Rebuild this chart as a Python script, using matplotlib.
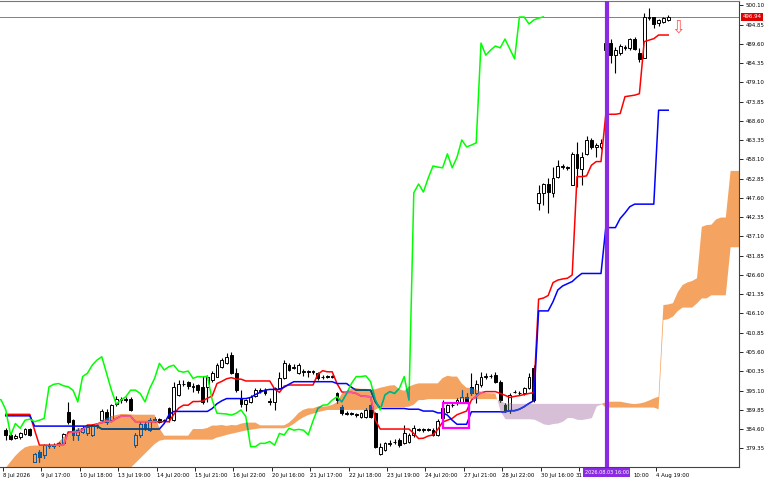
import numpy as np
import matplotlib
matplotlib.use("Agg")
import matplotlib.pyplot as plt
from matplotlib.patches import Rectangle, PathPatch
from matplotlib.path import Path
from matplotlib.transforms import blended_transform_factory, ScaledTranslation

# hourly-ish bars, index 0..138 (last one is the live bar)
open_ = [
    384.3, 383.0, 382.2, 382.5, 383.2, 384.5, 375.7, 378.4, 377.5, 379.9,
    380.1, 380.2, 380.7, 389.3, 387.0, 383.1, 383.9, 383.4, 383.1, 385.4,
    387.0, 389.3, 387.0, 391.4, 392.5, 392.7, 392.9, 380.2, 382.9, 386.0,
    384.3, 387.0, 387.2, 386.8, 390.2, 387.0, 394.0, 396.8, 397.3, 396.2,
    396.6, 396.1, 396.1, 398.0, 398.9, 401.6, 402.5, 404.8, 400.0, 393.0,
    391.4, 392.0, 393.6, 395.0, 395.2, 392.3, 392.0, 395.7, 398.4, 402.0,
    401.3, 399.8, 400.2, 400.3, 400.2, 399.8, 398.7, 398.9, 398.8, 394.3,
    390.7, 389.0, 388.8, 388.6, 388.0, 388.0, 391.1, 388.9, 377.9, 378.9,
    380.6, 381.0, 381.6, 380.7, 381.1, 383.0, 384.5, 384.3, 384.5, 384.3,
    383.0, 387.5, 389.3, 391.1, 391.6, 392.0, 393.4, 396.1, 394.3, 396.6,
    398.8, 399.0, 399.3, 397.5, 391.1, 389.8, 394.6, 394.5, 394.3, 395.7,
    401.1, 446.3, 449.0, 451.5, 449.0, 453.4, 456.4, 456.0, 451.1, 459.6,
    455.6, 459.5, 463.4, 461.6, 461.5, 488.0, 489.8, 486.5, 487.0, 488.8,
    488.4, 490.8, 487.0, 485.6, 496.6, 496.8, 495.3, 495.6, 496.2]
high = [
    384.8, 383.4, 383.3, 383.8, 385.0, 385.0, 378.2, 378.9, 380.6, 380.9,
    380.8, 381.2, 383.6, 392.0, 387.3, 384.8, 385.3, 385.6, 386.1, 386.0,
    390.0, 390.0, 391.5, 393.5, 393.2, 393.2, 393.2, 383.4, 386.6, 386.4,
    387.5, 387.8, 387.6, 387.3, 390.7, 397.5, 398.0, 397.9, 397.6, 397.2,
    397.0, 399.0, 399.3, 400.3, 402.5, 403.9, 405.2, 405.7, 401.2, 395.2,
    392.7, 393.9, 395.7, 395.7, 395.7, 393.0, 396.0, 400.2, 403.4, 402.5,
    402.2, 402.5, 401.0, 400.7, 400.8, 400.2, 399.2, 399.3, 399.3, 394.8,
    391.1, 389.4, 389.2, 389.0, 389.3, 390.2, 391.6, 389.3, 380.7, 381.2,
    381.5, 382.0, 382.1, 385.7, 383.5, 385.7, 385.0, 384.9, 384.9, 384.8,
    387.3, 392.5, 391.5, 391.8, 393.0, 395.2, 394.5, 399.8, 397.9, 400.2,
    399.8, 399.6, 400.2, 398.0, 391.6, 394.3, 395.3, 395.0, 396.0, 400.0,
    402.0, 451.1, 451.6, 453.0, 456.0, 457.9, 456.8, 456.4, 460.2, 462.9,
    460.0, 464.6, 464.0, 462.5, 463.6, 491.0, 490.8, 488.8, 489.6, 489.3,
    491.3, 491.4, 488.4, 497.9, 499.3, 497.0, 496.4, 496.9, 497.5]
low = [
    381.6, 381.6, 381.8, 382.0, 382.9, 382.6, 375.5, 375.7, 376.8, 379.4,
    379.3, 380.0, 380.5, 386.1, 381.6, 381.6, 383.5, 383.0, 382.8, 385.0,
    386.6, 386.0, 386.8, 391.0, 391.8, 392.0, 389.6, 379.8, 382.5, 384.4,
    384.1, 386.6, 386.3, 386.5, 386.6, 386.9, 393.6, 396.3, 395.5, 394.8,
    394.4, 391.4, 392.0, 397.5, 398.7, 401.1, 402.3, 399.6, 394.8, 390.7,
    389.6, 391.6, 393.4, 394.3, 393.9, 391.1, 389.8, 395.5, 398.2, 400.3,
    400.9, 399.5, 399.0, 398.9, 399.7, 398.0, 398.3, 398.4, 398.5, 391.6,
    388.4, 388.5, 388.3, 388.0, 387.7, 387.6, 387.5, 379.3, 377.5, 378.5,
    380.0, 380.4, 379.8, 380.5, 380.8, 382.5, 384.0, 383.9, 384.0, 382.6,
    382.8, 387.0, 388.9, 390.5, 391.2, 391.8, 391.7, 393.8, 391.6, 396.1,
    398.3, 398.5, 397.1, 392.0, 389.3, 388.9, 394.3, 394.0, 394.0, 395.5,
    392.0, 444.3, 445.7, 443.5, 447.9, 453.0, 455.6, 455.2, 451.0, 450.7,
    451.0, 459.2, 461.0, 458.8, 460.8, 486.5, 484.3, 481.6, 486.5, 488.0,
    488.0, 487.9, 484.7, 485.6, 496.1, 494.0, 494.5, 495.2, 495.9]
close = [
    383.0, 382.0, 382.8, 383.4, 384.5, 383.1, 377.9, 377.0, 380.2, 380.2,
    380.0, 380.8, 383.2, 386.6, 383.1, 384.3, 384.8, 385.2, 385.7, 385.6,
    389.6, 386.6, 391.1, 392.9, 392.7, 392.6, 389.8, 382.9, 386.1, 384.8,
    387.0, 387.3, 386.6, 387.0, 387.5, 396.1, 396.8, 397.0, 396.4, 396.1,
    395.2, 392.0, 398.9, 399.8, 402.0, 403.4, 404.3, 399.8, 395.2, 391.4,
    392.5, 393.4, 395.2, 395.2, 394.3, 392.0, 395.7, 398.4, 402.5, 400.7,
    401.6, 402.0, 400.4, 400.1, 400.4, 398.4, 398.9, 398.8, 399.0, 392.5,
    388.9, 388.8, 388.7, 388.4, 388.9, 389.8, 388.0, 379.8, 379.8, 380.7,
    380.7, 381.2, 380.2, 383.4, 383.0, 384.8, 384.3, 384.5, 384.3, 383.0,
    386.8, 390.2, 391.1, 391.2, 392.5, 393.4, 392.0, 394.3, 397.0, 398.9,
    398.9, 399.1, 397.5, 392.5, 389.8, 393.9, 394.8, 394.3, 395.7, 398.9,
    392.5, 449.0, 451.4, 449.2, 453.0, 456.3, 456.0, 455.8, 459.6, 455.8,
    458.7, 463.4, 461.5, 462.0, 462.6, 489.8, 486.5, 487.9, 489.0, 488.5,
    490.9, 488.2, 485.5, 496.9, 496.9, 495.0, 496.1, 496.6, 496.94]

tenkan = [
    388.6, 388.6, 388.6, 388.6, 388.6, 388.6, 384.3, 380.2, 380.2, 380.2,
    380.2, 380.2, 380.2, 383.8, 383.8, 383.8, 384.4, 385.7, 385.7, 386.0,
    386.3, 386.8, 386.6, 387.5, 388.1, 388.1, 388.1, 386.6, 386.6, 386.6,
    386.6, 386.6, 386.6, 386.6, 386.6, 388.6, 390.3, 391.1, 391.1, 392.1,
    392.1, 392.2, 393.0, 393.6, 397.0, 397.6, 398.3, 398.6, 398.2, 398.2,
    397.7, 397.7, 397.7, 397.7, 397.7, 397.7, 395.5, 394.6, 396.3, 396.6,
    396.6, 396.6, 396.6, 396.6, 396.6, 399.5, 400.5, 400.2, 400.2, 397.0,
    394.7, 394.6, 394.6, 394.3, 393.6, 393.5, 393.4, 387.0, 384.6, 384.6,
    384.6, 384.6, 384.6, 384.6, 384.6, 383.4, 382.0, 382.1, 382.7, 383.0,
    384.5, 386.5, 387.0, 387.5, 388.5, 389.0, 389.5, 392.5, 393.5, 394.5,
    394.8, 394.8, 394.8, 394.3, 393.8, 393.2, 393.5, 393.7, 394.0, 394.3,
    394.5, 420.0, 420.3, 421.0, 424.5, 425.2, 425.5, 425.7, 426.6, 453.4,
    453.4, 453.6, 456.5, 457.5, 457.5, 470.4, 470.4, 470.4, 470.6, 475.2,
    475.4, 475.6, 476.0, 490.2, 490.6, 491.0, 492.0, 492.0, 492.0]
kijun = [
    388.2, 388.2, 388.2, 388.2, 388.2, 388.2, 385.4, 385.4, 385.4, 385.4,
    385.4, 385.4, 385.4, 385.4, 385.4, 385.4, 385.4, 385.4, 385.4, 385.4,
    384.6, 384.6, 384.6, 384.6, 384.6, 384.6, 384.6, 384.6, 384.6, 384.6,
    384.6, 384.6, 384.6, 386.1, 388.5, 389.4, 389.4, 389.4, 389.4, 389.4,
    389.4, 389.4, 389.4, 390.2, 391.5, 392.3, 392.9, 392.9, 392.9, 392.9,
    392.9, 393.2, 394.0, 394.6, 395.2, 395.4, 395.4, 395.4, 396.0, 396.8,
    397.5, 397.5, 397.5, 397.5, 397.5, 397.5, 397.5, 397.5, 397.5, 397.0,
    397.0, 397.0, 396.0, 395.2, 395.2, 395.2, 395.2, 392.0, 390.2, 390.2,
    390.2, 390.2, 390.2, 390.2, 390.0, 390.0, 390.0, 389.5, 389.5, 389.5,
    389.0, 389.0, 388.4, 387.0, 385.9, 385.9, 385.9, 389.3, 389.3, 389.3,
    389.3, 389.3, 389.3, 389.3, 389.3, 389.6, 389.6, 390.0, 390.7, 391.6,
    392.3, 416.8, 416.8, 416.8, 419.3, 422.5, 423.6, 424.2, 424.8, 426.0,
    427.0, 427.0, 427.0, 427.0, 427.0, 439.5, 439.5, 439.5, 442.0, 443.5,
    445.2, 445.9, 445.9, 445.9, 445.9, 445.9, 471.5, 471.5, 471.5]

# cloud edges, already shifted forward (index 0..153)
span_a = [
    374.0, 375.7, 377.3, 378.6, 379.6, 380.0, 380.1, 380.1, 380.1, 380.1,
    380.2, 381.1, 382.3, 383.4, 384.1, 384.8, 384.8, 385.4, 385.4, 386.1,
    387.0, 387.5, 388.1, 388.4, 388.7, 388.7, 388.6, 388.5, 388.5, 388.5,
    388.5, 388.5, 384.85, 382.8, 382.8, 382.8, 382.8, 382.8, 382.8, 384.6,
    384.6, 384.6, 384.9, 385.55, 385.55, 385.7, 385.45, 385.7, 385.6, 386.05,
    386.35, 386.35, 386.35, 385.6, 385.6, 385.6, 385.6, 385.6, 385.6, 386.35,
    387.55, 389.0, 389.85, 390.25, 390.25, 390.75, 390.75, 390.8, 391.2, 391.9,
    394.25, 394.95, 395.6, 395.75, 395.55, 395.55, 395.3, 395.45, 395.85, 396.15,
    396.45, 396.55, 395.45, 395.0, 396.15, 396.7, 397.05, 397.05, 397.05, 397.05,
    397.05, 398.5, 399.1, 398.9, 398.9, 397.0, 395.85, 395.8, 395.3, 394.75,
    394.4, 394.35, 394.3, 389.5, 387.4, 387.4, 387.4, 387.4, 387.4, 387.4,
    387.3, 386.7, 386.0, 385.8, 386.1, 386.25, 386.75, 387.75, 387.7, 387.25,
    387.2, 387.45, 387.7, 390.9, 391.4, 391.9, 392.05, 392.05, 392.05, 391.8,
    391.55, 391.4, 391.55, 391.85, 392.35, 392.95, 393.4, 418.4, 418.55, 418.9,
    421.9, 423.85, 424.55, 424.95, 425.7, 439.7, 440.2, 440.3, 441.75, 442.25,
    442.25, 454.95, 454.95, 454.95]
span_b = [
    372.5, 372.5, 372.5, 372.5, 372.5, 372.5, 372.5, 372.5, 372.5, 372.5,
    372.5, 372.5, 372.5, 372.5, 372.5, 372.5, 372.5, 372.5, 372.5, 372.5,
    372.5, 372.5, 372.5, 372.5, 372.5, 372.5, 374.0, 375.3, 376.6, 377.9,
    379.2, 380.5, 381.4, 381.7, 381.7, 381.7, 381.7, 381.7, 381.7, 381.7,
    381.7, 381.7, 381.7, 381.7, 382.3, 382.6, 383.0, 383.3, 383.6, 383.9,
    384.2, 384.4, 384.6, 384.8, 384.8, 384.8, 384.8, 384.8, 384.8, 385.2,
    386.0, 387.0, 387.8, 388.4, 388.8, 389.2, 389.5, 389.8, 389.8, 389.8,
    389.8, 389.8, 389.8, 389.8, 389.8, 389.8, 389.8, 389.8, 390.6, 390.6,
    390.6, 390.6, 390.6, 390.6, 390.7, 391.25, 392.5, 392.5, 392.75, 392.75,
    392.75, 392.75, 392.75, 392.75, 392.75, 392.75, 392.75, 392.75, 392.75, 392.75,
    392.75, 392.75, 392.75, 392.5, 391.6, 391.6, 391.6, 391.6, 391.6, 391.6,
    391.6, 391.6, 391.6, 391.6, 391.6, 391.6, 391.6, 391.6, 391.6, 391.6,
    391.6, 391.6, 391.6, 391.6, 391.6, 390.45, 390.45, 390.45, 390.45, 390.45,
    390.45, 390.45, 390.45, 390.45, 390.45, 390.45, 390.0, 414.3, 414.55, 415.25,
    416.75, 417.7, 417.7, 417.7, 418.85, 420.2, 420.2, 421.05, 421.05, 421.05,
    421.05, 434.15, 434.15, 434.15]

# labels as they show on screen (the two near the marker are half covered by its tag)
date_labels = ["8 Jul 2026", "9 Jul 17:00", "10 Jul 18:00", "13 Jul 19:00",
               "14 Jul 20:00", "15 Jul 21:00", "16 Jul 22:00", "20 Jul 16:00",
               "21 Jul 17:00", "22 Jul 18:00", "23 Jul 19:00", "24 Jul 20:00",
               "27 Jul 21:00", "28 Jul 22:00", "30 Jul 16:00", "31",
               "10:00", "4 Aug 19:00"]
price_ticks = [379.35, 384.60, 389.85, 395.10, 400.35, 405.60, 410.85, 416.10,
               421.35, 426.60, 431.85, 437.10, 442.35, 447.60, 452.85, 458.10,
               463.35, 468.60, 473.85, 479.10, 484.35, 489.60, 494.85, 500.10]

last_price = 496.94
vline_bar = 125.2
vline_label = "2026.08.03 16:00"
rect_bars = (91.0, 96.4)
rect_prices = (385.0, 391.7)
arrow_bar, arrow_price = 140, 494.0
SHIFT = 26   # chikou lag
LABEL_EVERY = 8

plt.rcParams['font.family'] = ['DejaVu Sans']
plt.rcParams['font.stretch'] = 'condensed'
FS = 4.3

fig = plt.figure(figsize=(7.68, 4.8), dpi=100)
ax = fig.add_axes([0, 13 / 480, 739 / 768, 466 / 480])
ax.set_facecolor('white')

cx = np.arange(len(span_a))
sa, sb = np.array(span_a), np.array(span_b)
kumo_up = ax.fill_between(cx, sa, sb, where=sa >= sb, interpolate=True,
                          color='#F4A460', lw=0, zorder=1)
kumo_dn = ax.fill_between(cx, sa, sb, where=sa < sb, interpolate=True,
                          color='#D8BFD8', lw=0, zorder=1)


def draw_layer(col, clip=None):
    o, h, l, c = map(np.asarray, (open_, high, low, close))
    x = np.arange(len(c))
    arts = [ax.vlines(x, l, h, color=col['edge'], lw=0.8, zorder=3)]
    bull = c >= o
    bodies = ax.bar(x, np.maximum(np.abs(c - o), 0.15), 0.62,
                    bottom=np.minimum(o, c),
                    color=[col['bull'] if b else col['edge'] for b in bull],
                    edgecolor=col['edge'], linewidth=0.7, zorder=3)
    arts += list(bodies.patches)
    arts += ax.plot(x, tenkan, color=col['tenkan'], lw=1.1, zorder=4)
    arts += ax.plot(x, kijun, color=col['kijun'], lw=1.1, zorder=4)
    arts += ax.plot(x - SHIFT, c, color=col['chikou'], lw=1.1, zorder=4)
    if clip is not None:
        for a in arts:
            a.set_clip_path(clip)


def clip_of(coll):
    return PathPatch(Path.make_compound_path(*coll.get_paths()),
                     transform=ax.transData)


draw_layer(dict(edge='black', bull='white', tenkan='#ff0000',
                kijun='#0000ff', chikou='#00ff00'))
# MT draws the kumo in xor mode, so whatever sits inside changes colour
draw_layer(dict(edge='#0B5B9F', bull='#F4A460', tenkan='#F45B9F',
                kijun='#0B5B60', chikou='#0BA49F'), clip_of(kumo_up))
draw_layer(dict(edge='#274027', bull='#D8BFD8', tenkan='#D84027',
                kijun='#2740D8', chikou='#27BF27'), clip_of(kumo_dn))

ax.axhline(last_price, color='#c86464', lw=0.7, zorder=2)
ax.axvline(vline_bar, color='#8a2be2', lw=3.0, zorder=6)
ax.add_patch(Rectangle((rect_bars[0], rect_prices[0]),
                       rect_bars[1] - rect_bars[0], rect_prices[1] - rect_prices[0],
                       fill=False, ec='#ff00ff', lw=1.6, zorder=5))
ax.text(arrow_bar, arrow_price, '\u21e9', color='#ff5a5a', fontsize=13,
        ha='center', va='center', family='DejaVu Sans', zorder=6)

ax.set_xlim(-1.21, 152.75)
ax.set_ylim(374.25, 501.27)

ax.yaxis.tick_right()
ax.set_yticks(price_ticks, [f"{v:.2f}" for v in price_ticks])
ax.set_xticks(np.arange(len(date_labels)) * LABEL_EVERY - 0.6, date_labels)
ax.tick_params(axis='both', direction='out', length=3, width=0.6, pad=1.5,
               labelsize=FS, colors='#000000')
xlabels = ax.get_xticklabels()
for t in xlabels:
    t.set_ha('left')
# the two tick texts next to the marker tag peek out on either side of it
for idx, dx in ((15, -3), (16, 16)):
    xlabels[idx].set_transform(xlabels[idx].get_transform() +
                               ScaledTranslation(dx / 100, 0, fig.dpi_scale_trans))

ax.spines['left'].set_visible(False)
ax.spines['top'].set_color('#777777')
for s in ('right', 'bottom'):
    ax.spines[s].set_color('#444444')
for s in ('top', 'right', 'bottom'):
    ax.spines[s].set_linewidth(0.8)

yt = blended_transform_factory(ax.transAxes, ax.transData)
ax.annotate(f"{last_price:.2f}", xy=(1.0, last_price), xycoords=yt,
            xytext=(2.5, 0), textcoords='offset points', ha='left', va='center',
            fontsize=FS, color='white', annotation_clip=False, zorder=10,
            bbox=dict(boxstyle='square,pad=0.3', fc='#e00000', ec='none'))
xt = blended_transform_factory(ax.transData, ax.transAxes)
ax.annotate(vline_label, xy=(vline_bar, 0), xycoords=xt,
            xytext=(0, -2.2), textcoords='offset points', ha='center', va='top',
            fontsize=4.0, color='white', annotation_clip=False, zorder=10,
            bbox=dict(boxstyle='square,pad=0.3', fc='#8a2be2', ec='none'))

fig.savefig('out.png', dpi=100, facecolor='white')
